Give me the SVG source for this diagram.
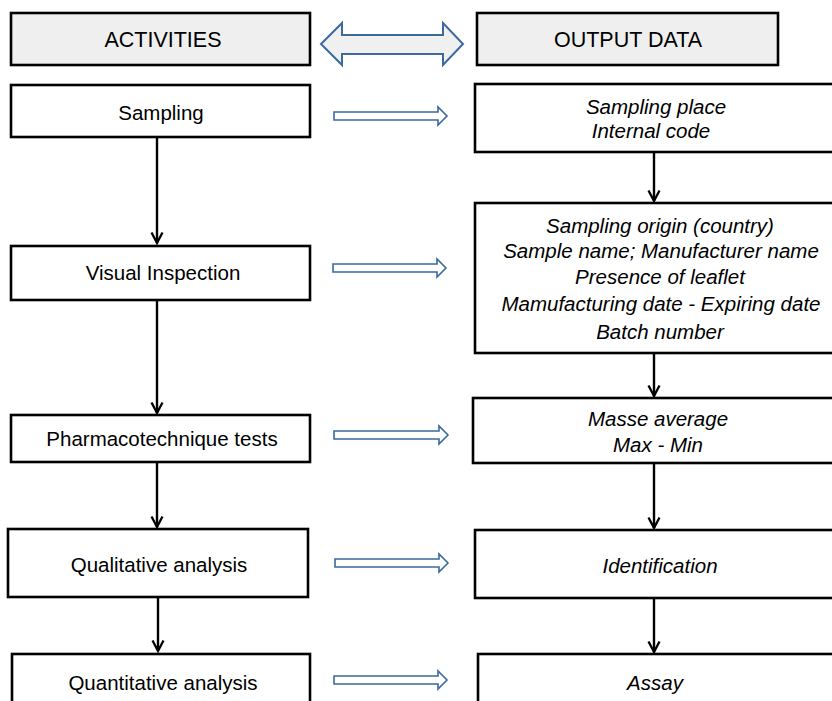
<svg xmlns="http://www.w3.org/2000/svg" width="832" height="701" viewBox="0 0 832 701">
<defs>
<marker id="chev" viewBox="0 0 14 14" refX="12" refY="7" markerWidth="14" markerHeight="14" markerUnits="userSpaceOnUse" orient="auto">
<path d="M1.5,1.5 L12,7 L1.5,12.5" fill="none" stroke="#000" stroke-width="2.3"/>
</marker>
</defs>
<style>
.box{fill:#fff;stroke:#000;stroke-width:2.6}
.hdr{fill:#efefef;stroke:#000;stroke-width:2.6}
.t{font-family:"Liberation Sans",Arial,sans-serif;font-size:20.5px;fill:#000;text-anchor:middle;dominant-baseline:central}
.h{font-size:21.5px}
.i{font-style:italic}
.big{fill:#f0f0f0;stroke:#3a6a9e;stroke-width:2}
.ha{fill:#fff;stroke:#3a6a9e;stroke-width:1.6}
.c{stroke:#000;stroke-width:2.4;fill:none;marker-end:url(#chev)}
</style>
<g id="activities"><rect class="hdr" x="11" y="13" width="299" height="52"/><text class="t h" x="163" y="40">ACTIVITIES</text></g>
<g id="output"><rect class="hdr" x="477" y="13" width="301" height="52"/><text class="t h" x="628" y="40">OUTPUT DATA</text></g>
<g id="sampling"><rect class="box" x="11" y="85" width="299" height="52"/><text class="t" x="161" y="112">Sampling</text></g>
<g id="visual"><rect class="box" x="11" y="246" width="299" height="54"/><text class="t" x="163" y="272">Visual Inspection</text></g>
<g id="pharma"><rect class="box" x="11" y="415" width="299" height="47"/><text class="t" x="162" y="438">Pharmacotechnique tests</text></g>
<g id="quali"><rect class="box" x="8" y="529" width="300" height="68"/><text class="t" x="159" y="564">Qualitative analysis</text></g>
<g id="quanti"><rect class="box" x="12" y="654" width="298" height="60"/><text class="t" x="163" y="682">Quantitative analysis</text></g>
<g id="out1"><rect class="box" x="475" y="84" width="362" height="68"/><text class="t i" x="656" y="106">Sampling place</text><text class="t i" x="651" y="130">Internal code</text></g>
<g id="out2"><rect class="box" x="475" y="203" width="362" height="150"/>
<text class="t i" x="660" y="225">Sampling origin (country)</text>
<text class="t i" x="661" y="250">Sample name; Manufacturer name</text>
<text class="t i" x="660" y="276">Presence of leaflet</text>
<text class="t i" x="661" y="303">Mamufacturing date - Expiring date</text>
<text class="t i" x="660" y="331">Batch number</text></g>
<g id="out3"><rect class="box" x="473" y="398" width="364" height="65"/><text class="t i" x="658" y="418">Masse average</text><text class="t i" x="658" y="444">Max - Min</text></g>
<g id="out4"><rect class="box" x="475" y="530" width="362" height="68"/><text class="t i" x="660" y="565">Identification</text></g>
<g id="out5"><rect class="box" x="478" y="654" width="359" height="60"/><text class="t i" x="655" y="682">Assay</text></g>
<g id="connectors">
<path class="big" d="M321,44 L342,23 L342,35 L443,35 L443,23 L463,44 L443,65 L443,54 L342,54 L342,65 Z"/>
<path class="ha" d="M334,112 L438,112 L438,107 L447,116 L438,125 L438,120 L334,120 Z"/>
<path class="ha" d="M333,264 L437,264 L437,259 L446,268 L437,277 L437,272 L333,272 Z"/>
<path class="ha" d="M334,431 L439,431 L439,426 L448,435 L439,444 L439,439 L334,439 Z"/>
<path class="ha" d="M335,559 L439,559 L439,554 L448,563 L439,572 L439,567 L335,567 Z"/>
<path class="ha" d="M334,676 L438,676 L438,671 L447,680 L438,689 L438,684 L334,684 Z"/>
<line class="c" x1="157" y1="137" x2="157" y2="243"/>
<line class="c" x1="157" y1="300" x2="157" y2="413"/>
<line class="c" x1="157" y1="462" x2="157" y2="527"/>
<line class="c" x1="158" y1="597" x2="158" y2="651"/>
<line class="c" x1="654" y1="152" x2="654" y2="201"/>
<line class="c" x1="654" y1="353" x2="654" y2="396"/>
<line class="c" x1="654" y1="463" x2="654" y2="528"/>
<line class="c" x1="654" y1="598" x2="654" y2="652"/>
</g>
</svg>
